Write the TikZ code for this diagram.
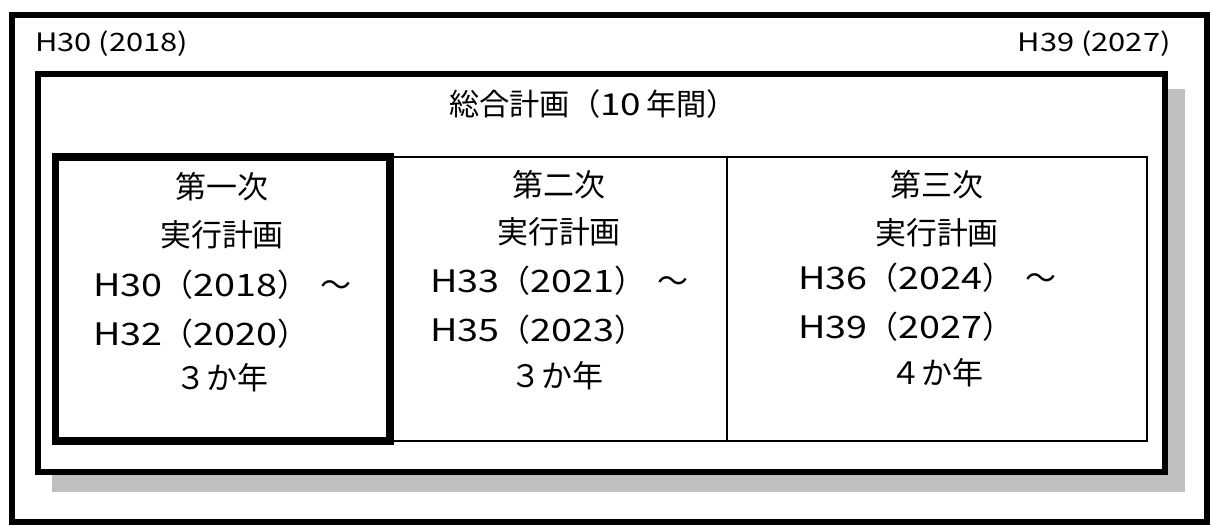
\documentclass[tikz,border=0pt]{standalone}
\usepackage{fontspec}
\setmainfont{Noto Sans CJK JP}
\newfontfamily\dv[FakeStretch=1.22]{Noto Sans CJK JP}
\usetikzlibrary{positioning}
\definecolor{shadowgray}{HTML}{C0C0C0}
\tikzstyle{outerframe} = [draw, line width=4.3pt]
\tikzstyle{planbox} = [draw, line width=4.3pt, fill=white]
\tikzstyle{firstbox} = [draw, line width=5pt, fill=white]
\tikzstyle{thinline} = [draw, line width=1pt]
\tikzstyle{yearlabel} = [inner sep=0pt, font=\fontsize{18}{20}\selectfont]
\tikzstyle{titletext} = [inner sep=0pt, font=\fontsize{21.5}{24}\selectfont]
\tikzstyle{cell} = [inner sep=0pt, font=\fontsize{22}{26}\selectfont]
\newcommand{\yr}[2]{{\dv #1}（{\dv #2}）}

\begin{document}
\begin{tikzpicture}[x=0.025cm, y=-0.025cm]
  \useasboundingbox (0,0) rectangle (1211,525);
  \draw [outerframe] (12,15) rectangle (1207,522);
  \node [yearlabel, anchor=west] (start) at (35,44) {\dv H30 (2018)};
  \node [yearlabel, anchor=east] (end) at (1171,44) {\dv H39 (2027)};
  % shadow and plan box
  \fill [shadowgray] (52,89) rectangle (1185,492);
  \draw [planbox] (38,74) rectangle (1165,472);
  \node [titletext] (plan) at (593,104) {総合計画（{\dv 10}\,年間）};
  % table of the three plans
  \draw [thinline] (390,157) -| (1147,441) -- (390,441);
  \draw [thinline] (727,157) -- (727,441);
  \draw [firstbox] (55.5,157) rectangle (390,441);
  % first
  \node [cell] (p1) at (222,187) {第一次};
  \node [cell] (p1name) at (222,235) {実行計画};
  \node [cell, anchor=west] (p1from) at (93,285) {\yr{H30}{2018}\hspace{0.4em}～};
  \node [cell, anchor=west] (p1to) at (93,334) {\yr{H32}{2020}};
  \node [cell] (p1len) at (222,378) {３か年};
  % second
  \node [cell] (p2) at (559,185) {第二次};
  \node [cell] (p2name) at (559,232) {実行計画};
  \node [cell, anchor=west] (p2from) at (430,281) {\yr{H33}{2021}\hspace{0.4em}～};
  \node [cell, anchor=west] (p2to) at (430,330) {\yr{H35}{2023}};
  \node [cell] (p2len) at (557,376) {３か年};
  % third
  \node [cell] (p3) at (937,185) {第三次};
  \node [cell] (p3name) at (937,233) {実行計画};
  \node [cell, anchor=west] (p3from) at (798,278) {\yr{H36}{2024}\hspace{0.4em}～};
  \node [cell, anchor=west] (p3to) at (798,327) {\yr{H39}{2027}};
  \node [cell] (p3len) at (937,373) {４か年};
\end{tikzpicture}
\end{document}
